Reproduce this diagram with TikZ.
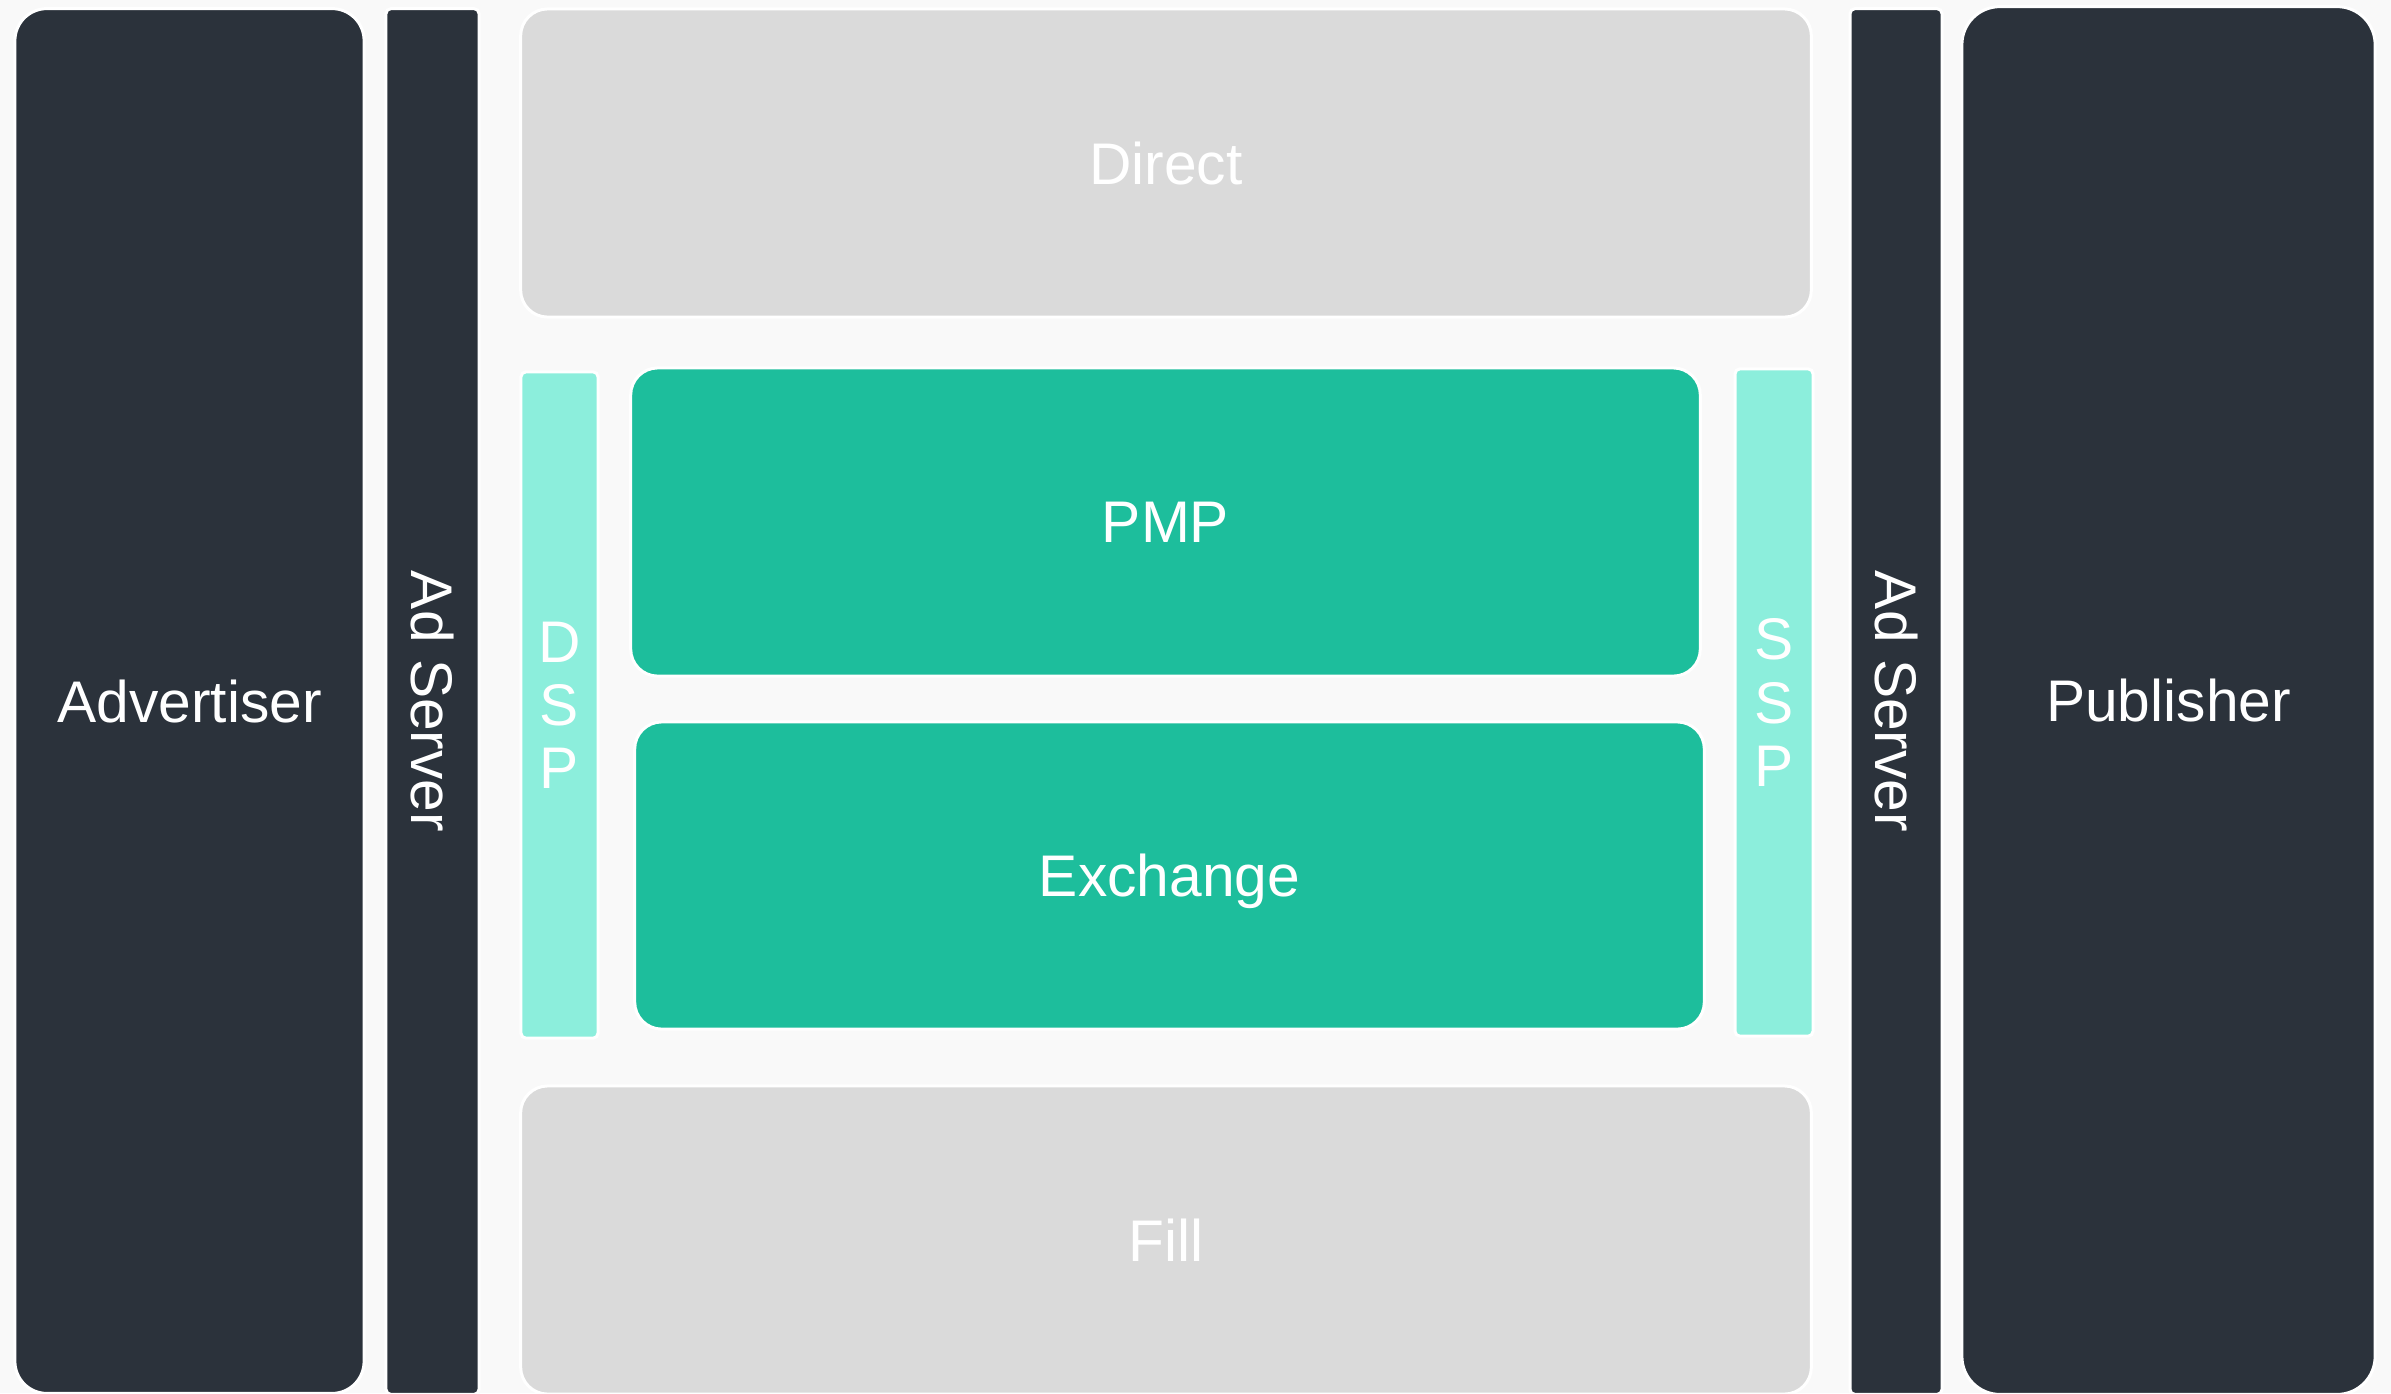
\documentclass[tikz,border=0pt]{standalone}
\usepackage{fontspec}
\setmainfont{Liberation Sans}
\definecolor{bgc}{HTML}{F9F9F9}
\definecolor{darkc}{HTML}{2B323B}
\definecolor{greyc}{HTML}{DADADA}
\definecolor{tealc}{HTML}{1DBE9C}
\definecolor{lteal}{HTML}{8CEEDC}
\begin{document}
\begin{tikzpicture}[x=0.01cm,y=-0.01cm,
  blk/.style={rectangle, draw=white, line width=0.03cm, inner sep=0pt, outer sep=0pt,
    text=white, font=\fontsize{16.7pt}{17.93pt}\selectfont, align=center},
  bigdark/.style={blk, fill=darkc, rounded corners=0.32cm},
  pubdark/.style={blk, fill=darkc, rounded corners=0.38cm},
  adsrv/.style={blk, fill=darkc, rounded corners=0.05cm},
  greybox/.style={blk, fill=greyc, rounded corners=0.27cm},
  tealbox/.style={blk, fill=tealc, rounded corners=0.27cm},
  sidebox/.style={blk, fill=lteal, rounded corners=0.05cm}]
\fill[bgc] (0,0) rectangle (2391,1393);
\useasboundingbox (0,0) rectangle (2391,1393);
\begin{scope}
\clip (0,0) rectangle (2391,1393);
\node[bigdark, minimum width=3.49cm, minimum height=13.84cm] (adv) at (189.5,701) {Advertiser};
\node[adsrv, minimum width=0.93cm, minimum height=13.85cm] (adsL) at (432.5,701.5) {\rotatebox{-90}{Ad Server}};
\node[greybox, minimum width=12.90cm, minimum height=3.08cm] (direct) at (1166,163) {Direct};
\node[sidebox, minimum width=0.77cm, minimum height=6.66cm] (dsp) at (559.5,705) {D\\S\\P};
\node[tealbox, minimum width=10.69cm, minimum height=3.08cm] (pmp) at (1165.5,522) {PMP};
\node[tealbox, minimum width=10.69cm, minimum height=3.07cm, text depth=0pt] (exch) at (1169.5,875.5) {Exchange};
\node[sidebox, minimum width=0.78cm, minimum height=6.67cm] (ssp) at (1774,702.5) {S\\S\\P};
\node[adsrv, minimum width=0.92cm, minimum height=13.85cm] (adsR) at (1896,701.5) {\rotatebox{-90}{Ad Server}};
\node[pubdark, minimum width=4.13cm, minimum height=13.87cm] (pub) at (2168.5,700.5) {Publisher};
\node[greybox, minimum width=12.90cm, minimum height=3.08cm] (fill) at (1166,1240) {Fill};
\end{scope}
\end{tikzpicture}
\end{document}
